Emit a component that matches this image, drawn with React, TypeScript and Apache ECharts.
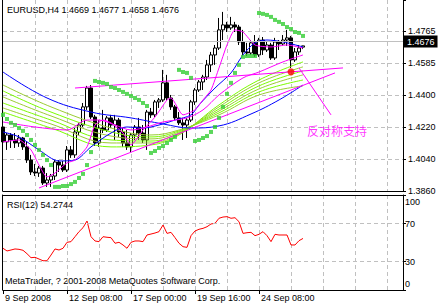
import React, { useEffect, useRef } from 'react';
import * as echarts from 'echarts';

// ---------- data ----------
const slotCount = 101; // H4 bar slots on the time axis
const opens = [1.4220,1.4136,1.4175,1.4147,1.4130,1.4158,1.4108,1.4034,1.3967,1.3961,1.3989,1.3905,1.3922,1.3944,1.4023,1.4006,1.3978,1.4091,1.4063,1.4192,1.4231,1.4333,1.4439,1.4276,1.4130,1.4214,1.4203,1.4271,1.4231,1.4259,1.4192,1.4130,1.4108,1.4175,1.4220,1.4186,1.4147,1.4304,1.4288,1.4361,1.4372,1.4468,1.4383,1.4333,1.4271,1.4243,1.4231,1.4259,1.4361,1.4428,1.4473,1.4501,1.4569,1.4625,1.4664,1.4766,1.4794,1.4777,1.4794,1.4782,1.4698,1.4642,1.4636,1.4693,1.4625,1.4709,1.4653,1.4681,1.4608,1.4698,1.4687,1.4709,1.4721,1.4597,1.4642,1.4669];
const closes = [1.4136,1.4175,1.4147,1.4130,1.4158,1.4108,1.4034,1.3967,1.3961,1.3989,1.3905,1.3922,1.3944,1.4023,1.4006,1.3978,1.4091,1.4063,1.4192,1.4231,1.4333,1.4439,1.4276,1.4130,1.4214,1.4203,1.4271,1.4231,1.4259,1.4192,1.4130,1.4108,1.4175,1.4220,1.4186,1.4147,1.4304,1.4288,1.4361,1.4372,1.4468,1.4383,1.4333,1.4271,1.4243,1.4231,1.4259,1.4361,1.4428,1.4473,1.4501,1.4569,1.4625,1.4664,1.4766,1.4794,1.4777,1.4794,1.4782,1.4698,1.4642,1.4636,1.4693,1.4625,1.4709,1.4653,1.4681,1.4608,1.4698,1.4687,1.4709,1.4721,1.4597,1.4642,1.4664,1.4676];
const lows = [1.4102,1.4091,1.4102,1.4102,1.4108,1.4091,1.4018,1.3950,1.3944,1.3939,1.3894,1.3883,1.3883,1.3922,1.3967,1.3967,1.3967,1.4046,1.4046,1.4175,1.4220,1.4316,1.4265,1.4113,1.4108,1.4186,1.4192,1.4214,1.4147,1.4164,1.4108,1.4091,1.4079,1.4147,1.4147,1.4130,1.4091,1.4271,1.4276,1.4327,1.4361,1.4372,1.4316,1.4259,1.4231,1.4147,1.4158,1.4248,1.4344,1.4417,1.4428,1.4484,1.4529,1.4569,1.4653,1.4709,1.4754,1.4766,1.4754,1.4681,1.4625,1.4619,1.4625,1.4614,1.4614,1.4625,1.4642,1.4597,1.4597,1.4653,1.4676,1.4676,1.4552,1.4586,1.4625,1.4658];
const highs = [1.4231,1.4186,1.4186,1.4186,1.4175,1.4164,1.4136,1.4063,1.4012,1.4001,1.4001,1.3961,1.3956,1.4034,1.4034,1.4029,1.4113,1.4113,1.4214,1.4243,1.4355,1.4451,1.4456,1.4288,1.4259,1.4316,1.4282,1.4288,1.4288,1.4271,1.4214,1.4203,1.4186,1.4231,1.4271,1.4231,1.4316,1.4327,1.4372,1.4383,1.4541,1.4513,1.4400,1.4344,1.4304,1.4271,1.4271,1.4372,1.4439,1.4484,1.4513,1.4597,1.4642,1.4681,1.4833,1.4867,1.4811,1.4839,1.4811,1.4794,1.4766,1.4693,1.4709,1.4737,1.4721,1.4726,1.4698,1.4693,1.4721,1.4709,1.4737,1.4766,1.4732,1.4664,1.4681,1.4677];

const sar = [1.4288,1.4265,1.4243,1.4231,1.4214,1.4198,1.4175,1.4147,1.4119,1.4091,1.4063,1.4034,1.4006,1.3883,1.3883,1.3888,1.3888,1.3899,1.3911,1.3933,1.3956,1.4006,1.4079,1.4479,1.4473,1.4468,1.4462,1.4445,1.4439,1.4428,1.4417,1.4406,1.4394,1.4383,1.4372,1.4355,1.4338,1.4074,1.4085,1.4102,1.4113,1.4130,1.4147,1.4164,1.4541,1.4529,1.4524,1.4496,1.4141,1.4147,1.4158,1.4169,1.4192,1.4220,1.4271,1.4333,1.4406,1.4468,1.4524,1.4569,1.4614,1.4619,1.4619,1.4619,1.4861,1.4856,1.4850,1.4839,1.4822,1.4811,1.4799,1.4782,1.4771,1.4754,1.4749,1.4732];

const rsi = [43.9,41.1,42.1,43.2,42.8,41.8,38.2,34.0,34.4,32.6,30.8,30.8,36.8,43.2,42.1,43.9,50.2,50.9,56.1,61.4,65.6,72.6,56.1,51.6,50.9,56.1,55.5,55.1,49.2,50.2,47.4,43.9,50.2,51.6,51.6,50.9,57.9,58.9,60.0,61.4,68.4,59.6,60.7,55.1,49.2,45.6,44.9,57.2,62.1,63.9,64.9,66.6,69.5,70.2,75.5,76.8,77.2,75.5,76.1,71.9,59.6,60.3,60.7,57.2,58.6,61.4,57.2,50.9,58.6,57.9,57.9,57.9,47.4,47.4,51.9,54.27];

const blueSlowIdx = [0,11,22,32,40,47,54,62,69,75];
const blueSlow = [1.4529,1.4383,1.4304,1.4271,1.4237,1.4214,1.4226,1.4293,1.4372,1.4456];
const blueFastIdx = [0,4,9,14,18,22,27,31,35,39,43,47,49,53,57,60,63,66,70,75];
const blueFast = [1.4192,1.4164,1.4091,1.4029,1.4034,1.4108,1.4186,1.4220,1.4214,1.4231,1.4259,1.4288,1.4344,1.4439,1.4524,1.4625,1.4693,1.4709,1.4698,1.4670];
const magFastIdx = [0,4,7,9,11,13,16,18,21,23,25,27,30,32,35,38,41,42,45,48,50,52,54,56,58,60,63,67,71,75];
const magFast = [1.4136,1.4147,1.4091,1.4006,1.3939,1.3961,1.4018,1.4034,1.4108,1.4231,1.4259,1.4243,1.4186,1.4119,1.4203,1.4276,1.4372,1.4383,1.4288,1.4316,1.4372,1.4428,1.4552,1.4681,1.4766,1.4754,1.4681,1.4670,1.4681,1.4664];
const magSlowIdx = [0,8,16,21,24,28,32,36,40,46,50,54,60,64,70,75];
const magSlow = [1.4248,1.4220,1.4203,1.4259,1.4259,1.4231,1.4203,1.4220,1.4248,1.4271,1.4316,1.4400,1.4496,1.4529,1.4586,1.4625];

const greenIdx = [0,12,27,37,44,54,64,75];
const green1 = [1.4304,1.4214,1.4108,1.4119,1.4175,1.4344,1.4484,1.4586];
const green2 = [1.4327,1.4237,1.4130,1.4130,1.4181,1.4333,1.4468,1.4558];
const green3 = [1.4355,1.4259,1.4147,1.4141,1.4186,1.4321,1.4451,1.4535];
const green4 = [1.4389,1.4282,1.4169,1.4153,1.4192,1.4310,1.4434,1.4513];
const green5 = [1.4423,1.4304,1.4192,1.4164,1.4198,1.4299,1.4417,1.4484];
const green6 = [1.4456,1.4333,1.4214,1.4175,1.4203,1.4288,1.4400,1.4451];

const trend1Idx = [18,85];
const trend1 = [1.4439,1.4552];
const trend2Idx = [9,83];
const trend2 = [1.3877,1.4524];
const pointerIdx = [74,82];
const pointer = [1.4552,1.4288];
const markIdx = 72;
const markPrice = 1.4530;
const noteIdx = 83;
const notePrice = 1.4198;
const noteText = '反对称支持';

const xTickIdx = [0,16,32,48,64];
const xTickLabels = ['9 Sep 2008','12 Sep 08:00','17 Sep 00:00','19 Sep 16:00','24 Sep 08:00'];
const priceTickLabels = ['1.3860','1.4040','1.4220','1.4400','1.4585','1.4765'];
const rsiTickValues = [0,30,70,100];

const symbolTitle = 'EURUSD,H4 1.4669 1.4677 1.4658 1.4676';
const rsiTitle = 'RSI(12) 54.2744';
const copyright = 'MetaTrader, ? 2001-2008 MetaQuotes Software Corp.';

// ---------- chart ----------
const FONT = '"Liberation Sans", Arial, sans-serif';
const dashed = { color: '#c0c0c0', type: [4, 3] as number[], width: 1 };

function lineSeries(idx: number[], vals: number[], color: string, smooth: boolean | number) {
  return {
    type: 'line',
    xAxisIndex: 0,
    yAxisIndex: 0,
    data: idx.map((x, k) => [x, vals[k]]),
    symbol: 'none',
    smooth,
    silent: true,
    lineStyle: { color, width: 1 },
    z: 3,
  };
}

export default function App() {
  const ref = useRef<HTMLDivElement>(null);
  useEffect(() => {
    if (!ref.current) return;
    const chart = echarts.init(ref.current, undefined, { renderer: 'svg' });
    const slots = Array.from({ length: slotCount }, (_, i) => String(i));
    const candleData = opens.map((o, i) => [o, closes[i], lows[i], highs[i]]);
    const lastClose = closes[closes.length - 1];
    const gridInterval = (i: number) => i > 0 && i % 8 === 0;
    const labelInterval = (i: number) => xTickIdx.includes(i);
    const hiddenCat = {
      type: 'category', data: slots, boundaryGap: false,
      axisLine: { show: true, onZero: false, lineStyle: { color: '#000', width: 1 } },
      axisTick: { show: false }, axisLabel: { show: false },
    };
    const option: any = {
      animation: false,
      backgroundColor: '#fff',
      textStyle: { fontFamily: FONT, fontSize: 9 },
      grid: [
        { left: 3, right: 36, top: 0, height: 191, outerBoundsMode: 'none' },
        { left: 3, right: 36, top: 195, height: 95, outerBoundsMode: 'none' },
      ],
      xAxis: [
        { ...hiddenCat, gridIndex: 0, position: 'bottom', splitLine: { show: true, interval: gridInterval, lineStyle: dashed } },
        {
          ...hiddenCat, gridIndex: 1, position: 'bottom',
          axisTick: { show: true, interval: labelInterval, length: 4, lineStyle: { color: '#000' } },
          axisLabel: {
            show: true, interval: labelInterval, align: 'left', margin: 3, color: '#000', fontSize: 9, fontFamily: FONT,
            padding: [0, 0, 0, 2],
            formatter: (_v: string, i: number) => { const k = xTickIdx.indexOf(i); return k >= 0 ? xTickLabels[k] : ''; },
          },
          splitLine: { show: true, interval: gridInterval, lineStyle: dashed },
        },
        { ...hiddenCat, gridIndex: 1, position: 'top', splitLine: { show: false } },
      ],
      yAxis: [
        {
          gridIndex: 0, type: 'value', position: 'right', min: 1.386, max: 1.4934, interval: 0.018, scale: true,
          axisLine: { show: true, onZero: false, lineStyle: { color: '#000' } },
          axisTick: { show: true, length: 3, lineStyle: { color: '#000' } },
          axisLabel: {
            margin: 5, color: '#000', fontSize: 9, fontFamily: FONT,
            formatter: (v: number) => { const k = Math.round((v - 1.386) / 0.018); return Math.abs(1.386 + k * 0.018 - v) < 1e-6 && priceTickLabels[k] ? priceTickLabels[k] : ''; },
          },
          splitLine: { show: true, showMinLine: false, showMaxLine: false, lineStyle: dashed },
        },
        {
          gridIndex: 0, type: 'value', position: 'left', offset: 1, min: 1.386, max: 1.4934,
          axisLine: { show: true, onZero: false, lineStyle: { color: '#000' } },
          axisTick: { show: false }, axisLabel: { show: false }, splitLine: { show: false },
        },
        {
          gridIndex: 1, type: 'value', position: 'right', min: 0, max: 100,
          axisLine: { show: true, onZero: false, lineStyle: { color: '#000' } },
          axisTick: { show: true, length: 3, customValues: rsiTickValues, lineStyle: { color: '#000' } },
          axisLabel: {
            margin: 2, color: '#000', fontSize: 9, fontFamily: FONT, customValues: rsiTickValues,
            formatter: (v: number) => (v === 100 ? '{t|100}' : v === 0 ? '{b|0}' : String(v)),
            rich: {
              t: { padding: [13, 0, 0, 0], fontSize: 9, color: '#000', fontFamily: FONT },
              b: { padding: [0, 0, 13, 0], fontSize: 9, color: '#000', fontFamily: FONT },
            },
          },
          splitLine: { show: false },
        },
        {
          gridIndex: 1, type: 'value', position: 'left', offset: 1, min: 0, max: 100,
          axisLine: { show: true, onZero: false, lineStyle: { color: '#000' } },
          axisTick: { show: false }, axisLabel: { show: false }, splitLine: { show: false },
        },
      ],
      graphic: [
        { type: 'text', left: 7, top: 5, silent: true, style: { text: symbolTitle, font: `9px ${FONT}`, fill: '#000' } },
        { type: 'text', left: 7, top: 200, silent: true, style: { text: rsiTitle, font: `9px ${FONT}`, fill: '#000' } },
        { type: 'text', left: 5, top: 276, silent: true, style: { text: copyright, font: `9px ${FONT}`, fill: '#000' } },
      ],
      series: [
        {
          type: 'candlestick', xAxisIndex: 0, yAxisIndex: 0, data: candleData, barWidth: 3, silent: true,
          itemStyle: { color: '#fff', color0: '#000', borderColor: '#000', borderColor0: '#000', borderWidth: 1 },
          markLine: {
            silent: true, symbol: 'none', animation: false,
            lineStyle: { color: '#c0c0c0', type: 'solid', width: 1 },
            label: { show: true, position: 'end', distance: 1, formatter: lastClose.toFixed(4), color: '#fff', backgroundColor: '#000', padding: [2, 3, 1, 3], fontSize: 9, fontFamily: FONT },
            data: [{ yAxis: lastClose }],
          },
          z: 2,
        },
        lineSeries(greenIdx, green1, '#7cfc00', 0.4),
        lineSeries(greenIdx, green2, '#9acd32', 0.4),
        lineSeries(greenIdx, green3, '#7cfc00', 0.4),
        lineSeries(greenIdx, green4, '#9acd32', 0.4),
        lineSeries(greenIdx, green5, '#7cfc00', 0.4),
        lineSeries(greenIdx, green6, '#9acd32', 0.4),
        lineSeries(blueSlowIdx, blueSlow, '#0000ff', 0.4),
        lineSeries(blueFastIdx, blueFast, '#0000ff', 0.3),
        lineSeries(magSlowIdx, magSlow, '#ff00ff', 0.3),
        lineSeries(magFastIdx, magFast, '#ff00ff', 0.2),
        lineSeries(trend1Idx, trend1, '#ff00ff', false),
        lineSeries(trend2Idx, trend2, '#ff00ff', false),
        lineSeries(pointerIdx, pointer, '#ff00ff', false),
        {
          type: 'scatter', xAxisIndex: 0, yAxisIndex: 0, silent: true,
          data: sar.map((v, i) => [i, v]), symbol: 'rect', symbolSize: 4,
          itemStyle: { color: '#32cd32' }, z: 4,
        },
        {
          type: 'scatter', xAxisIndex: 0, yAxisIndex: 0, silent: true,
          data: [[markIdx, markPrice]], symbol: 'circle', symbolSize: 7,
          itemStyle: { color: '#ff0000' }, z: 5,
        },
        {
          type: 'scatter', xAxisIndex: 0, yAxisIndex: 0, silent: true,
          data: [[noteIdx, notePrice]], symbolSize: 1, itemStyle: { color: 'rgba(0,0,0,0)' },
          label: { show: true, position: 'inside', formatter: noteText, color: '#ff00ff', fontSize: 12, fontFamily: '"Noto Sans CJK SC", sans-serif', offset: [2, 0] },
          z: 5,
        },
        {
          type: 'line', xAxisIndex: 1, yAxisIndex: 2, data: rsi, symbol: 'none', silent: true,
          lineStyle: { color: '#ff0000', width: 1 },
          markLine: {
            silent: true, symbol: 'none', animation: false, label: { show: false },
            lineStyle: dashed, data: [{ yAxis: 30 }, { yAxis: 70 }],
          },
        },
      ],
    };
    chart.setOption(option);
    return () => chart.dispose();
  }, []);
  return <div ref={ref} style={{ position: 'fixed', left: 0, top: 0, width: 439, height: 307, background: '#fff' }} />;
}
